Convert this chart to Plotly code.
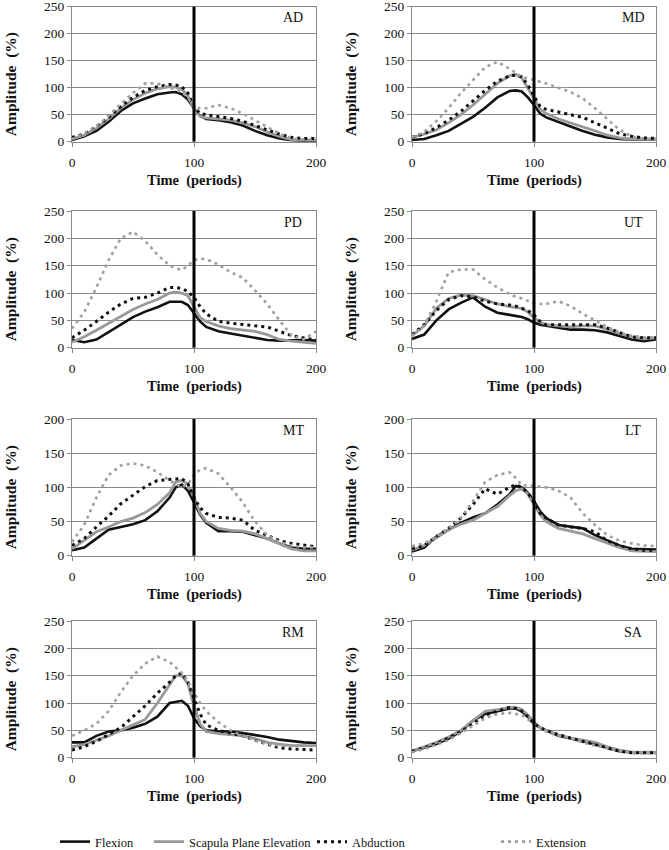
import plotly.graph_objects as go

TIME = [0, 10, 20, 30, 40, 50, 60, 70, 80, 85, 90, 95, 100, 105, 110, 120, 130, 140, 150, 160, 170, 180, 190, 200]
SERIES = ["Flexion", "Scapula Plane Elevation", "Abduction", "Extension"]
PANELS = ["AD", "MD", "PD", "UT", "MT", "LT", "RM", "SA"]
Y_MAX = [250, 250, 250, 250, 200, 200, 250, 250]

# AD
AD_FLEX = [3, 10, 20, 37, 57, 71, 80, 88, 91, 92, 88, 78, 62, 48, 42, 40, 36, 30, 20, 12, 6, 3, 2, 2]
AD_SCAP = [5, 12, 25, 42, 62, 78, 90, 98, 102, 101, 97, 85, 62, 47, 44, 42, 40, 35, 28, 18, 10, 4, 3, 3]
AD_ABD = [8, 14, 28, 45, 65, 82, 95, 102, 106, 105, 102, 90, 65, 52, 50, 47, 43, 38, 30, 22, 14, 8, 6, 6]
AD_EXT = [5, 14, 28, 48, 70, 90, 108, 108, 100, 96, 92, 82, 64, 62, 62, 68, 62, 52, 40, 28, 15, 6, 4, 4]
# MD
MD_FLEX = [3, 5, 12, 20, 33, 46, 63, 82, 94, 95, 93, 82, 68, 52, 45, 36, 28, 20, 13, 8, 5, 4, 4, 4]
MD_SCAP = [8, 14, 22, 35, 50, 68, 88, 108, 122, 125, 118, 100, 80, 60, 52, 42, 35, 28, 20, 12, 7, 5, 5, 5]
MD_ABD = [8, 15, 26, 40, 56, 75, 95, 112, 122, 123, 120, 105, 85, 65, 60, 55, 50, 45, 35, 25, 15, 10, 7, 6]
MD_EXT = [8, 18, 38, 62, 90, 115, 138, 148, 135, 128, 120, 117, 115, 112, 108, 100, 92, 80, 62, 42, 22, 10, 5, 4]
# PD
PD_FLEX = [14, 10, 15, 28, 42, 56, 66, 74, 84, 84, 84, 78, 62, 48, 38, 30, 26, 22, 18, 14, 13, 14, 14, 13]
PD_SCAP = [10, 20, 32, 45, 58, 70, 80, 88, 100, 102, 100, 95, 75, 55, 48, 40, 35, 32, 30, 24, 15, 12, 10, 8]
PD_ABD = [18, 32, 48, 65, 80, 90, 92, 100, 110, 110, 108, 103, 92, 75, 62, 48, 45, 42, 40, 38, 30, 22, 18, 14]
PD_EXT = [35, 65, 110, 160, 200, 212, 195, 170, 150, 145, 142, 150, 160, 163, 162, 152, 138, 128, 105, 80, 50, 22, 15, 30]
# UT
UT_FLEX = [16, 24, 50, 70, 82, 92, 75, 64, 60, 58, 56, 52, 46, 42, 40, 36, 33, 33, 32, 28, 22, 15, 12, 15]
UT_SCAP = [22, 40, 72, 90, 96, 95, 88, 80, 75, 74, 72, 65, 55, 47, 42, 40, 38, 40, 40, 34, 26, 20, 16, 18]
UT_ABD = [24, 42, 68, 88, 95, 93, 85, 80, 78, 76, 72, 68, 60, 48, 42, 42, 42, 43, 42, 36, 28, 20, 18, 18]
UT_EXT = [22, 40, 85, 138, 143, 143, 125, 110, 98, 93, 90, 85, 81, 80, 80, 85, 76, 62, 50, 38, 28, 22, 19, 19]
# MT
MT_FLEX = [8, 12, 25, 38, 42, 46, 52, 65, 85, 100, 104, 95, 78, 60, 48, 36, 36, 35, 30, 25, 18, 12, 10, 10]
MT_SCAP = [10, 22, 35, 42, 50, 55, 63, 75, 92, 108, 110, 105, 85, 62, 50, 40, 37, 36, 32, 25, 18, 10, 7, 7]
MT_ABD = [15, 25, 42, 58, 76, 88, 101, 110, 111, 112, 113, 105, 85, 70, 62, 56, 55, 52, 37, 30, 22, 18, 15, 13]
MT_EXT = [20, 45, 85, 118, 132, 135, 132, 122, 110, 105, 100, 105, 118, 126, 128, 120, 100, 78, 50, 30, 20, 15, 12, 12]
# LT
LT_FLEX = [6, 12, 28, 38, 48, 56, 62, 75, 90, 102, 100, 92, 80, 65, 55, 45, 42, 40, 30, 22, 15, 10, 9, 9]
LT_SCAP = [8, 15, 26, 38, 46, 52, 62, 72, 88, 95, 98, 90, 75, 60, 50, 40, 36, 32, 25, 18, 12, 7, 6, 6]
LT_ABD = [10, 15, 28, 40, 55, 75, 98, 90, 100, 104, 100, 92, 78, 62, 55, 45, 42, 40, 35, 22, 15, 10, 8, 8]
LT_EXT = [14, 18, 28, 40, 55, 80, 108, 118, 122, 114, 103, 103, 102, 101, 100, 95, 85, 62, 45, 30, 22, 18, 15, 14]
# RM
RM_FLEX = [28, 28, 40, 48, 50, 55, 62, 75, 100, 102, 104, 95, 72, 58, 50, 48, 48, 45, 42, 38, 33, 30, 28, 27]
RM_SCAP = [20, 24, 32, 40, 50, 60, 70, 100, 132, 150, 150, 135, 95, 62, 48, 44, 42, 40, 35, 28, 25, 22, 22, 22]
RM_ABD = [14, 20, 30, 42, 55, 75, 95, 118, 138, 150, 155, 138, 110, 80, 60, 50, 45, 40, 32, 25, 18, 16, 15, 14]
RM_EXT = [40, 50, 62, 85, 120, 150, 172, 185, 175, 165, 155, 140, 120, 100, 85, 65, 50, 40, 32, 25, 22, 22, 22, 22]
# SA
SA_FLEX = [12, 18, 25, 35, 48, 68, 80, 85, 90, 90, 85, 75, 62, 55, 50, 40, 35, 30, 25, 18, 12, 10, 9, 10]
SA_SCAP = [12, 20, 28, 38, 50, 68, 85, 88, 92, 92, 88, 78, 65, 55, 50, 42, 36, 32, 28, 20, 14, 10, 10, 10]
SA_ABD = [12, 18, 26, 36, 48, 62, 78, 85, 92, 90, 85, 75, 62, 55, 50, 42, 36, 30, 25, 18, 12, 9, 9, 9]
SA_EXT = [10, 16, 24, 32, 45, 58, 72, 80, 82, 80, 78, 70, 62, 55, 48, 40, 36, 28, 22, 17, 12, 8, 8, 8]

DATA = {
    "AD": [AD_FLEX, AD_SCAP, AD_ABD, AD_EXT],
    "MD": [MD_FLEX, MD_SCAP, MD_ABD, MD_EXT],
    "PD": [PD_FLEX, PD_SCAP, PD_ABD, PD_EXT],
    "UT": [UT_FLEX, UT_SCAP, UT_ABD, UT_EXT],
    "MT": [MT_FLEX, MT_SCAP, MT_ABD, MT_EXT],
    "LT": [LT_FLEX, LT_SCAP, LT_ABD, LT_EXT],
    "RM": [RM_FLEX, RM_SCAP, RM_ABD, RM_EXT],
    "SA": [SA_FLEX, SA_SCAP, SA_ABD, SA_EXT],
}

W, H = 669, 850
FONT = "Liberation Serif"
STYLES = [
    dict(color="#111111", width=2.6, dash="solid"),
    dict(color="#999999", width=2.8, dash="solid"),
    dict(color="#111111", width=3, dash="3px,4px"),
    dict(color="#a0a0a0", width=2.6, dash="3px,4px"),
]

# pixel layout (left/right of plot area per column, top/bottom per row)
COL_X = [(72, 316), (412, 656)]
ROW_Y = [(6.7, 141.7), (211, 347.7), (419, 555.7), (621, 757.7)]

fig = go.Figure()
annotations = []
shapes = []
layout = {}
for i, name in enumerate(PANELS):
    r, c = divmod(i, 2)
    x0, x1 = COL_X[c]
    t, b = ROW_Y[r]
    xa = "xaxis" if i == 0 else f"xaxis{i+1}"
    ya = "yaxis" if i == 0 else f"yaxis{i+1}"
    xr = "x" if i == 0 else f"x{i+1}"
    yr = "y" if i == 0 else f"y{i+1}"
    layout[xa] = dict(
        domain=[x0 / W, x1 / W], anchor=yr, range=[0, 200], tickvals=[0, 100, 200],
        showgrid=False, showline=True, linecolor="#8a8a8a", linewidth=1, mirror=True,
        ticks="outside", ticklen=4, tickcolor="#8a8a8a", ticklabelstandoff=4,
        ticklabeloverflow="allow",
        tickfont=dict(family=FONT, size=13.5, color="#111"), zeroline=False, fixedrange=True,
    )
    layout[ya] = dict(
        domain=[1 - b / H, 1 - t / H], anchor=xr, range=[0, Y_MAX[i]], dtick=50,
        showgrid=True, gridcolor="#8a8a8a", gridwidth=1, showline=True, linecolor="#8a8a8a",
        linewidth=1, mirror=True, ticks="outside", ticklen=4, tickcolor="#8a8a8a",
        ticklabeloverflow="allow",
        tickfont=dict(family=FONT, size=13.5, color="#111"), zeroline=False, fixedrange=True,
    )
    for k, s in enumerate(SERIES):
        fig.add_trace(go.Scatter(
            x=TIME, y=DATA[name][k], mode="lines", name=s, xaxis=xr, yaxis=yr,
            line=dict(**STYLES[k]), showlegend=(i == 0), hoverinfo="skip",
            legend="legend" if k == 0 else f"legend{k+1}",
        ))
    shapes.append(dict(type="line", xref=xr, yref=f"{yr} domain", x0=100, x1=100, y0=0, y1=1,
                       line=dict(color="black", width=3)))
    annotations.append(dict(text=name, xref="paper", yref="paper", x=(x1 - 23) / W, y=1 - (t + 11) / H,
                            showarrow=False, xanchor="center", yanchor="middle",
                            font=dict(family=FONT, size=14, color="#111")))
    annotations.append(dict(text="<b>Amplitude  (%)</b>", xref="paper", yref="paper",
                            x=(x0 - 61) / W, y=1 - ((t + b) / 2 + 10) / H, textangle=-90,
                            showarrow=False, xanchor="center", yanchor="middle",
                            font=dict(family=FONT, size=15.5, color="#111")))
    annotations.append(dict(text="<b>Time  (periods)</b>", xref="paper", yref="paper",
                            x=((x0 + x1) / 2) / W, y=1 - (b + 39) / H,
                            showarrow=False, xanchor="center", yanchor="middle",
                            font=dict(family=FONT, size=14.5, color="#111")))

LEG_X = [55, 149, 312, 496]
for k in range(4):
    key = "legend" if k == 0 else f"legend{k+1}"
    layout[key] = dict(x=LEG_X[k] / W, y=1 - 842 / H, xanchor="left", yanchor="middle",
                       orientation="h", bgcolor="rgba(0,0,0,0)",
                       font=dict(family=FONT, size=12.5, color="#111"))

fig.update_layout(
    width=W, height=H, margin=dict(l=0, r=0, t=0, b=0, autoexpand=False),
    paper_bgcolor="white", plot_bgcolor="white", hovermode=False,
    annotations=annotations, shapes=shapes, **layout,
)
fig.write_html("out.html", config={"displayModeBar": False},
               post_script="document.body.style.margin='0px';document.body.style.overflow='hidden';document.documentElement.style.overflow='hidden';")
